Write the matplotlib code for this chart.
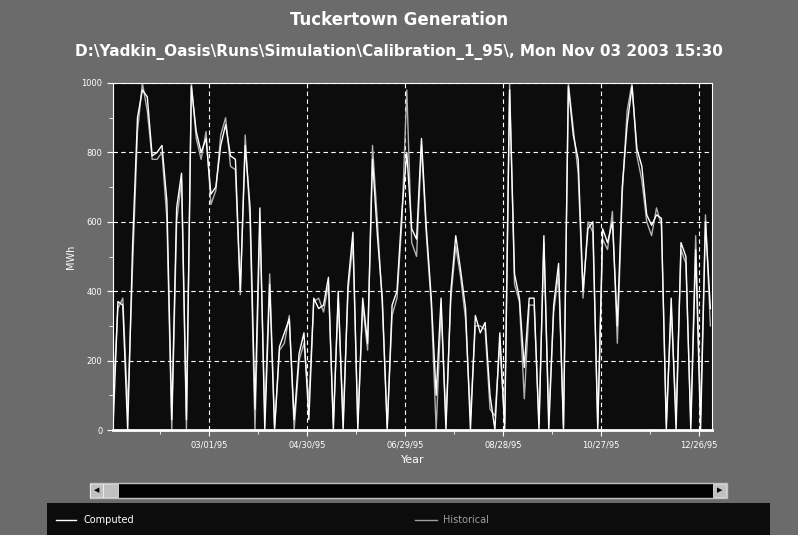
import numpy as np
import matplotlib
matplotlib.use("Agg")
import matplotlib.pyplot as plt
from matplotlib.patches import Rectangle

# day of year 1995 (0 = Jan 1), 3-day steps
days = list(range(0, 367, 3))
computed = [0, 370, 360, 0, 530, 900, 980, 960, 790, 800, 820, 660, 30, 640, 740, 30,
            990, 860, 800, 840, 680, 700, 820, 880, 790, 780, 400, 820, 640, 60, 640, 0,
            420, 0, 240, 280, 320, 30, 220, 280, 30, 380, 350, 360, 440, 0, 400, 0,
            420, 570, 0, 380, 250, 780, 560, 380, 0, 360, 400, 630, 800, 580, 550, 840,
            580, 380, 100, 380, 0, 400, 560, 460, 350, 0, 330, 280, 310, 100, 0, 280,
            0, 980, 450, 380, 180, 380, 380, 0, 560, 0, 360, 480, 0, 990, 850, 780,
            400, 580, 600, 0, 580, 540, 600, 300, 700, 880, 990, 810, 760, 620, 590, 620,
            610, 0, 380, 0, 540, 500, 0, 520, 0, 600, 350]
historical = [90, 350, 380, 60, 470, 860, 1000, 920, 780, 780, 800, 610, 0, 600, 720, 0,
              1000, 840, 780, 860, 650, 690, 850, 900, 760, 750, 390, 850, 600, 0, 600, 40,
              450, 10, 230, 250, 330, 0, 200, 250, 80, 370, 380, 340, 420, 20, 380, 30,
              400, 540, 20, 360, 230, 820, 600, 360, 10, 330, 380, 600, 980, 540, 500, 820,
              560, 360, 0, 350, 30, 380, 530, 440, 320, 40, 300, 300, 290, 60, 40, 250,
              20, 1000, 420, 370, 90, 360, 360, 20, 540, 40, 340, 450, 10, 1000, 870, 740,
              380, 600, 570, 20, 550, 520, 630, 250, 680, 920, 1000, 790, 720, 600, 560, 640,
              590, 20, 350, 40, 520, 480, 20, 560, 40, 620, 300]
tick_days = [59, 119, 179, 239, 299, 359]
tick_labels = ["03/01/95", "04/30/95", "06/29/95", "08/28/95", "10/27/95", "12/26/95"]

W, H = 798, 535
fig = plt.figure(figsize=(W / 100, H / 100), dpi=100, facecolor="#6b6b6b")
ax = fig.add_axes([113 / W, (H - 430) / H, 599 / W, 347 / H], facecolor="#0c0c0c")

ax.plot(days, historical, color="#b0b0b0", lw=1)
ax.plot(days, computed, color="white", lw=1)

ax.set_xlim(0, 367)
ax.set_ylim(0, 1000)
ax.set_xticks(tick_days)
ax.set_xticklabels(tick_labels)
ax.set_xticks([d - 30 for d in tick_days], minor=True)
ax.set_yticks(range(0, 1001, 200))
ax.set_yticks(range(100, 1000, 200), minor=True)
ax.grid(True, which="major", color="white", ls=(0, (4, 3)), lw=0.8)
ax.tick_params(colors="white", labelsize=6, which="both", length=3)
ax.tick_params(which="major", length=4)
for s in ax.spines.values():
    s.set_color("white")
ax.spines["bottom"].set_linewidth(2)
ax.set_xlabel("Year", color="white", fontsize=8)
ax.set_ylabel("MWh", color="white", fontsize=7)

fig.text(0.5, 1 - 20 / H, "Tuckertown Generation", ha="center", va="center",
         color="white", fontsize=12, fontweight="bold")
fig.text(0.5, 1 - 52 / H,
         r"D:\Yadkin_Oasis\Runs\Simulation\Calibration_1_95\, Mon Nov 03 2003 15:30",
         ha="center", va="center", color="white", fontsize=11, fontweight="bold")

# scrollbar
def px_rect(x0, y0, x1, y1, **kw):
    fig.patches.append(Rectangle((x0 / W, 1 - y1 / H), (x1 - x0) / W, (y1 - y0) / H,
                                 transform=fig.transFigure, **kw))

px_rect(90, 483, 727, 498, facecolor="black", edgecolor="#c0c0c0", lw=1)
px_rect(90, 484, 103, 497, facecolor="#c0c0c0", edgecolor="white", lw=0.5)
px_rect(103, 484, 118, 497, facecolor="#c0c0c0", edgecolor="white", lw=0.5)
px_rect(713, 484, 726, 497, facecolor="#c0c0c0", edgecolor="white", lw=0.5)
fig.text(96.5 / W, 1 - 490.5 / H, "◀", fontsize=5, ha="center", va="center", color="black")
fig.text(719.5 / W, 1 - 490.5 / H, "▶", fontsize=5, ha="center", va="center", color="black")

# legend box
px_rect(47, 503, 770, 535, facecolor="#0c0c0c", edgecolor="none")
fig.lines.append(plt.Line2D([56 / W, 76 / W], [1 - 520 / H] * 2, color="white", lw=1,
                            transform=fig.transFigure))
fig.text(83 / W, 1 - 520 / H, "Computed", color="white", fontsize=7, va="center")
fig.lines.append(plt.Line2D([415 / W, 437 / W], [1 - 520 / H] * 2, color="#a0a0a0", lw=1,
                            transform=fig.transFigure))
fig.text(443 / W, 1 - 520 / H, "Historical", color="#a0a0a0", fontsize=7, va="center")

fig.savefig("out.png", dpi=100, facecolor=fig.get_facecolor())
